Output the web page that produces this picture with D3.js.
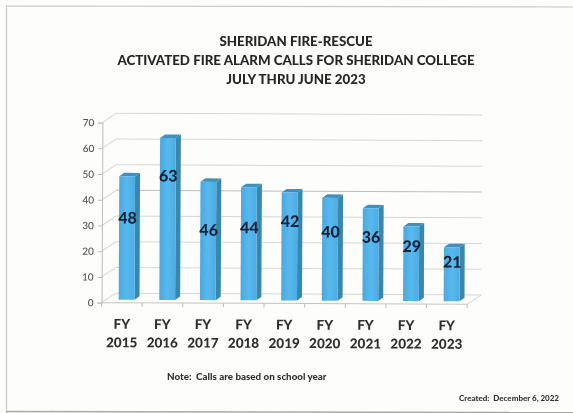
<!DOCTYPE html>
<html>
<head>
<meta charset="utf-8">
<script src="https://cdn.jsdelivr.net/npm/d3@7/dist/d3.min.js"></script>
<style>
html,body{margin:0;padding:0;background:#fff;overflow:hidden}
svg{display:block}
text{font-family:Lato,"Open Sans",sans-serif}
</style>
</head>
<body>
<script>
const years = ["2015","2016","2017","2018","2019","2020","2021","2022","2023"];
const calls = [48,63,46,44,42,40,36,29,21];
const labelLevels = [32.2,48.6,27.6,28.6,31.1,27.1,25.1,21.6,15.6];
const yTicks = [0,10,20,30,40,50,60,70];
const titleLines = ["SHERIDAN FIRE-RESCUE","ACTIVATED FIRE ALARM CALLS FOR SHERIDAN COLLEGE","JULY THRU JUNE 2023"];

const W = 573, H = 413;
const depthX = 14, depthY = -9.5;
const barDX = 4.7, barDY = -3;

const svg = d3.select("body").append("svg").attr("width",W).attr("height",H);
const defs = svg.append("defs");
defs.append("filter").attr("id","scan").attr("x","-5%").attr("y","-5%").attr("width","110%").attr("height","110%")
  .append("feGaussianBlur").attr("stdDeviation",0.35);
const grad = defs.append("linearGradient").attr("id","front");
grad.append("stop").attr("offset","0%").attr("stop-color","#47aae3");
grad.append("stop").attr("offset","50%").attr("stop-color","#5ab8ec");
grad.append("stop").attr("offset","100%").attr("stop-color","#4aade6");

svg.append("rect").attr("width",W).attr("height",H).attr("fill","#fdfdfc");

const page = svg.append("g").attr("filter","url(#scan)");

// scanned frame
page.append("path").attr("d","M6.5,413 L6.5,6 L573,7").attr("fill","none").attr("stroke","#c9c9c7").attr("stroke-width",1.2);
page.append("path").attr("d","M6,411.5 L573,412.5").attr("fill","none").attr("stroke","#a9a9a7").attr("stroke-width",1.5);

const chart = page.append("g").attr("transform","rotate(0.27 286 210)");

const x = d3.scaleBand().domain(years).range([102,467.6]).paddingInner(0.6).paddingOuter(0.3);
const xEdge = d3.scaleLinear().domain([0,years.length]).range([102,467.6]);
const y = d3.scaleLinear().domain([0,70]).range([303.5,123.5]);

// back wall gridlines and left wall
const grid = chart.append("g");
const gridColors = d => d===40 ? "#bdbdbb" : "#d6d6d4";
grid.selectAll(".back").data(yTicks).join("line")
  .attr("x1",102+depthX).attr("x2",467.6+depthX)
  .attr("y1",d=>y(d)+depthY).attr("y2",d=>y(d)+depthY)
  .attr("stroke",gridColors).attr("stroke-width",1);
grid.selectAll(".side").data(yTicks).join("line")
  .attr("x1",102).attr("x2",102+depthX)
  .attr("y1",d=>y(d)).attr("y2",d=>y(d)+depthY)
  .attr("stroke","#d6d6d4");
grid.append("line").attr("x1",467.6).attr("x2",467.6+depthX)
  .attr("y1",y(0)).attr("y2",y(0)+depthY).attr("stroke","#d6d6d4");

// y axis
const yAxis = d3.axisLeft(y).tickValues(yTicks).tickSize(4).tickPadding(4);
const yG = chart.append("g").attr("transform","translate(102,0)").call(yAxis);
yG.select(".domain").attr("stroke","#bcbcba");
yG.selectAll(".tick line").attr("stroke","#bcbcba");
yG.selectAll("text").attr("fill","#505050").attr("font-size",10).style("font-family","Lato,sans-serif").attr("font-weight",500);

// floor front edge and x ticks
chart.append("line").attr("x1",102).attr("x2",467.6).attr("y1",y(0)).attr("y2",y(0)).attr("stroke","#c4c4c2");
chart.selectAll(".xt").data(d3.range(years.length+1)).join("line")
  .attr("x1",d=>xEdge(d)).attr("x2",d=>xEdge(d))
  .attr("y1",y(0)).attr("y2",y(0)+4).attr("stroke","#bcbcba");

// bars
const bars = chart.selectAll(".bar").data(years.map((yr,i)=>({yr,v:calls[i],lab:labelLevels[i]}))).join("g").attr("class","bar");
const bw = 15.8, sx = 5, sy = -3.5;
const bx = d => x(d.yr)+x.bandwidth()/2+barDX-bw/2;
const by = v => y(v)+barDY;
bars.append("path").attr("fill","#3b86aa")
  .attr("d",d=>`M${bx(d)+bw},${by(d.v)} l${sx},${sy} L${bx(d)+bw+sx},${by(0)+sy} L${bx(d)+bw},${by(0)} Z`);
bars.append("path").attr("fill","#3f90b8")
  .attr("d",d=>`M${bx(d)},${by(d.v)} l${sx},${sy} h${bw} l${-sx},${-sy} Z`);
bars.append("rect").attr("x",bx).attr("width",bw)
  .attr("y",d=>by(d.v)).attr("height",d=>by(0)-by(d.v)).attr("fill","url(#front)");
bars.append("text").attr("x",d=>bx(d)+bw/2+0.5).attr("y",d=>by(d.lab))
  .attr("text-anchor","middle").attr("dominant-baseline","central")
  .attr("font-size",16).attr("font-weight",900).attr("fill","#14243a").text(d=>d.v);

// category labels
const cats = chart.selectAll(".cat").data(years).join("g").attr("class","cat")
  .attr("transform",d=>`translate(${x(d)+x.bandwidth()/2},0)`);
cats.append("text").attr("y",329.5).attr("text-anchor","middle").attr("font-size",13.5).attr("font-weight",900).attr("fill","#2e2e2e").text("FY");
cats.append("text").attr("y",348).attr("text-anchor","middle").attr("font-size",13.5).attr("font-weight",900).attr("fill","#2e2e2e").text(d=>d);

// title
page.selectAll(".ttl").data(titleLines).join("text").attr("class","ttl")
  .attr("x",296).attr("y",(d,i)=>[46,65,84][i]).attr("text-anchor","middle")
  .attr("font-size",13.3).attr("font-weight",900).attr("fill","#262626").text(d=>d);

// notes
page.append("text").attr("x",167).attr("y",379.5).attr("font-size",9.8).attr("font-weight",900).attr("fill","#333").attr("xml:space","preserve").text("Note:  Calls are based on school year");
page.append("text").attr("x",459).attr("y",401).attr("font-size",8).attr("font-weight",900).attr("fill","#333").attr("xml:space","preserve").text("Created:  December 6, 2022");
</script>
</body>
</html>
